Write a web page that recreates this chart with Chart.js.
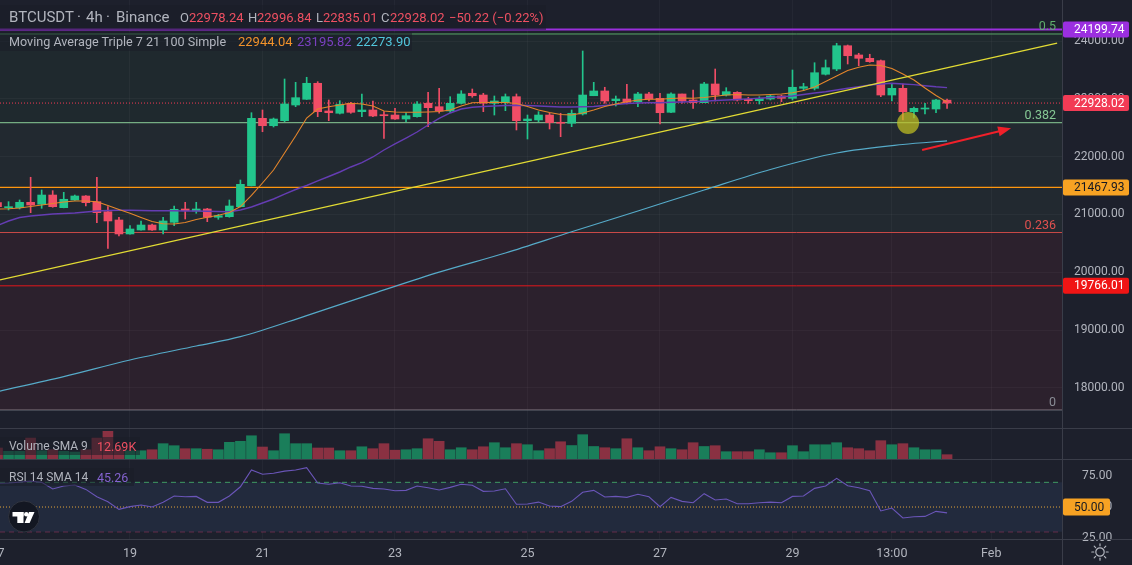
<!DOCTYPE html>
<html>
<head>
<meta charset="utf-8">
<script src="https://cdn.jsdelivr.net/npm/chart.js@4.4.1/dist/chart.umd.min.js"></script>
<style>
html,body{margin:0;padding:0;background:#1d202c;}
#wrap{position:relative;width:1132px;height:565px;overflow:hidden;background:#1d202c;font-family:Roboto,"Noto Sans",sans-serif;}
#wrap canvas{position:absolute;left:0;}
.t{position:absolute;white-space:nowrap;line-height:19px;height:19px;color:#b2b5be;}
.sep{position:absolute;background:#3a3d49;}
.box{position:absolute;background:rgba(26,29,40,0.55);}
</style>
</head>
<body>
<div id="wrap">
  <canvas id="c1" width="1132" height="428" style="top:0px"></canvas>
  <canvas id="c2" width="1132" height="31" style="top:428px"></canvas>
  <canvas id="c3" width="1132" height="106" style="top:459px"></canvas>

  <div class="sep" style="left:0;top:428px;width:1132px;height:1px"></div>
  <div class="sep" style="left:0;top:459px;width:1132px;height:1px"></div>
  <div class="sep" style="left:0;top:539px;width:1132px;height:1px"></div>
  <div class="sep" style="left:1062px;top:0;width:1px;height:565px"></div>

  <div class="box" style="left:0;top:5px;width:546px;height:25px"></div>
  <div class="box" style="left:0;top:32px;width:412px;height:19px"></div>
  <div class="box" style="left:0;top:437px;width:140px;height:18px"></div>
  <div class="box" style="left:0;top:468px;width:134px;height:18px"></div>

  <div class="t" style="left:9px;top:8px;font-size:15px">BTCUSDT</div>
  <div class="t" style="left:77px;top:8px;font-size:15px">·</div>
  <div class="t" style="left:86px;top:8px;font-size:15px">4h</div>
  <div class="t" style="left:106px;top:8px;font-size:15px">·</div>
  <div class="t" style="left:116px;top:8px;font-size:15px">Binance</div>
  <div class="t" style="left:180px;top:8px;font-size:13px">O</div>
  <div class="t" style="left:189px;top:8px;font-size:13px;color:#ef5062">22978.24</div>
  <div class="t" style="left:248px;top:8px;font-size:13px">H</div>
  <div class="t" style="left:257px;top:8px;font-size:13px;color:#ef5062">22996.84</div>
  <div class="t" style="left:316px;top:8px;font-size:13px">L</div>
  <div class="t" style="left:323px;top:8px;font-size:13px;color:#ef5062">22835.01</div>
  <div class="t" style="left:381px;top:8px;font-size:13px">C</div>
  <div class="t" style="left:390px;top:8px;font-size:13px;color:#ef5062">22928.02</div>
  <div class="t" style="left:449px;top:8px;font-size:13px;color:#ef5062">−50.22 (−0.22%)</div>

  <div class="t" style="left:9px;top:32px;font-size:12.6px">Moving Average Triple 7 21 100 Simple</div>
  <div class="t" style="left:238px;top:32px;font-size:13px;color:#f2922b">22944.04</div>
  <div class="t" style="left:297px;top:32px;font-size:13px;color:#7a40c0">23195.82</div>
  <div class="t" style="left:356px;top:32px;font-size:13px;color:#52c6dc">22273.90</div>

  <div class="t" style="left:9px;top:437px;font-size:12px">Volume SMA 9</div>
  <div class="t" style="left:97px;top:437px;font-size:12.5px;color:#ef5062">12.69K</div>
  <div class="t" style="left:9px;top:468px;font-size:12px">RSI 14 SMA 14</div>
  <div class="t" style="left:97px;top:468px;font-size:12.5px;color:#8563d0">45.26</div>

  <svg style="position:absolute;left:7px;top:500px" width="34" height="34" viewBox="0 0 34 34">
    <circle cx="17" cy="16.5" r="15.5" fill="#131722" stroke="#30343f" stroke-width="1"/>
    <rect x="5.5" y="12" width="11" height="4.5" fill="#ffffff"/>
    <rect x="10.3" y="12" width="6.2" height="11" fill="#ffffff"/>
    <circle cx="19.3" cy="14.2" r="2.2" fill="#ffffff"/>
    <polygon points="22,12 27.5,12 22.6,23 17.6,23" fill="#ffffff"/>
  </svg>
  <svg style="position:absolute;left:1090px;top:542px" width="20" height="20" viewBox="0 0 20 20">
    <circle cx="10" cy="10" r="4.2" fill="none" stroke="#b2b5be" stroke-width="1.2"/>
    <g stroke="#b2b5be" stroke-width="1.2" stroke-linecap="round">
      <line x1="10" y1="1.8" x2="10" y2="3.8"/><line x1="10" y1="16.2" x2="10" y2="18.2"/>
      <line x1="1.8" y1="10" x2="3.8" y2="10"/><line x1="16.2" y1="10" x2="18.2" y2="10"/>
      <line x1="4.2" y1="4.2" x2="5.6" y2="5.6"/><line x1="14.4" y1="14.4" x2="15.8" y2="15.8"/>
      <line x1="4.2" y1="15.8" x2="5.6" y2="14.4"/><line x1="14.4" y1="5.6" x2="15.8" y2="4.2"/>
    </g>
  </svg>
</div>

<script>
// ---------------- DATA ----------------
const xTickIdx = [0, 12, 24, 36, 48, 60, 72, 81, 90];
const xTickLabels = ['17', '19', '21', '23', '25', '27', '29', '13:00', 'Feb'];
const priceTicks = [18000, 19000, 20000, 21000, 22000, 23000, 24000];
const rsiTicks = [25, 50, 75];

const opens = [
  21204,21118,21118,21211,21177,21337,21118,21251,21320,21222,
  21048,20905,20663,20732,20818,20732,20865,21095,21061,21095,
  20952,20962,21135,21498,22664,22536,22623,22894,22993,23270,
  22791,22751,22924,22779,22808,22721,22721,22652,22692,22924,
  22865,22791,22924,23097,23067,22924,22934,23038,22623,22635,
  22721,22595,22578,22739,23055,23137,22969,22998,22952,23085,
  23010,22768,23085,22981,22934,23258,23067,23114,22993,22969,
  22998,23050,23010,23183,23183,23426,23517,23920,23760,23702,
  23661,23067,23183,22779,22825,22825,22978.24];
const highs = [
  21234,21222,21251,21644,21424,21412,21384,21337,21329,21644,
  21135,20952,20806,20888,20835,20952,21147,21211,21211,21107,
  21003,21251,21597,22761,22808,22669,23344,23287,23374,23298,
  22981,22969,22941,23085,22964,22779,22837,22761,22952,23114,
  23183,23038,23142,23171,23097,23050,23085,23085,22721,22779,
  22751,22751,22808,23829,23287,23201,23050,23252,23114,23114,
  23097,23107,23085,23154,23287,23517,23194,23125,23028,23038,
  23067,23067,23500,23270,23626,23673,23962,23932,23789,23772,
  23673,23270,23258,22860,22924,22993,22996.84];
const lows = [
  21113,21078,21095,21031,21107,21125,21115,21243,21147,20858,
  20415,20628,20660,20730,20723,20663,20806,20922,21021,20876,
  20917,20952,21130,21493,22432,22514,22605,22865,22990,22692,
  22623,22739,22751,22692,22692,22318,22645,22605,22682,22519,
  22751,22761,22912,23028,22779,22721,22796,22462,22306,22605,
  22479,22346,22519,22721,23055,22924,22877,22912,22865,22964,
  22566,22761,22924,22837,22934,22964,23050,22964,22924,22912,
  22981,22952,22981,23142,23154,23413,23488,23604,23574,23633,
  23038,22964,22635,22670,22739,22761,22835.01];
const closes = [
  21135,21135,21211,21164,21337,21135,21263,21320,21204,21031,
  20888,20663,20749,20818,20732,20888,21090,21066,21095,20952,
  20979,21147,21522,22664,22536,22652,22912,23021,23270,22779,
  22761,22907,22768,22808,22704,22709,22652,22709,22912,22848,
  22791,22924,23085,23055,22924,22964,23038,22623,22652,22721,
  22588,22578,22751,23067,23137,22964,22998,22941,23085,22998,
  22761,23085,22964,22934,23258,23067,23125,22981,22969,23010,
  23050,23010,23201,23211,23453,23540,23920,23747,23702,23644,
  23067,23183,22779,22837,22837,22981,22928.02];

const ma7 = [
  21095,21100,21112,21138,21164,21190,21216,21233,21233,21221,
  21156,21087,21021,20948,20879,20841,20836,20862,20913,20951,
  20986,21034,21138,21329,21545,21770,22064,22358,22669,22825,
  22865,22894,22924,22912,22877,22791,22773,22768,22768,22773,
  22782,22808,22877,22934,22938,22941,22938,22920,22868,22808,
  22765,22730,22721,22756,22808,22868,22912,22952,22981,22993,
  22993,23007,23016,23010,23024,23045,23067,23076,23067,23067,
  23076,23085,23107,23145,23206,23301,23396,23491,23547,23586,
  23578,23526,23431,23327,23188,23059,22944.04];
const ma21 = [
  20810,20887,20948,20974,20991,21008,21017,21026,21043,21061,
  21069,21073,21073,21069,21066,21066,21064,21061,21061,21055,
  21052,21048,21078,21130,21199,21268,21354,21432,21502,21580,
  21657,21735,21822,21899,21995,22116,22220,22323,22427,22548,
  22661,22756,22825,22855,22868,22877,22886,22891,22886,22877,
  22868,22860,22860,22865,22868,22886,22903,22920,22929,22932,
  22934,22941,22946,22952,22960,22971,22981,22990,23000,23010,
  23024,23036,23050,23076,23102,23124,23154,23183,23211,23240,
  23258,23270,23258,23246,23227,23209,23195.82];
const ma100Idx = [0, 6, 12, 18, 22, 28, 34, 40, 46, 52, 58, 64, 70, 76, 82, 86];
const ma100Val = [17936, 18195, 18483, 18725, 18886, 19251, 19630, 20002, 20334, 20701, 21061, 21424, 21779, 22064, 22211, 22273.90];

const volume = [
  12.5, 8.7, 8.7, 23.8, 9.4, 10.5, 8.7, 7.9, 10.5, 23.8,
  31.4, 11.7, 9.4, 9.4, 10.5, 17.4, 15.1, 11.7, 11.7, 11.1,
  10.5, 18.9, 20.1, 26.4, 13.6, 9.4, 28.7, 17.4, 17.4, 12.5,
  12.5, 9.4, 9.4, 13.9, 11.7, 17.4, 10.0, 10.5, 11.7, 23.0,
  20.1, 10.5, 12.8, 10.5, 13.9, 18.5, 12.8, 17.4, 16.2, 9.4,
  11.7, 19.6, 15.3, 27.6, 14.2, 12.8, 11.7, 23.0, 12.8, 9.4,
  13.9, 11.7, 10.5, 18.5, 14.2, 15.1, 8.3, 8.3, 8.3, 10.5,
  7.1, 7.1, 15.1, 8.3, 16.2, 16.2, 18.5, 12.8, 11.7, 9.4,
  20.8, 16.2, 17.4, 12.8, 10.5, 10.5, 4.9];

const rsi = [
  69.2, 69.5, 70.2, 71.0, 70.0, 64.6, 67.0, 67.8, 64.3, 58.3,
  54.3, 48.1, 50.3, 51.6, 50.0, 53.8, 58.9, 58.3, 58.6, 53.8,
  53.8, 58.9, 66.4, 80.0, 76.5, 77.3, 79.1, 80.0, 81.9, 69.5,
  68.4, 69.7, 67.0, 66.8, 65.1, 64.6, 63.2, 63.5, 67.0, 65.6,
  63.8, 65.9, 68.4, 67.6, 62.7, 63.0, 64.8, 52.2, 52.4, 54.0,
  50.8, 50.3, 54.6, 61.9, 63.5, 58.1, 58.6, 57.8, 60.3, 58.3,
  50.3, 57.8, 54.6, 53.5, 60.8, 55.7, 56.5, 52.7, 52.7, 53.5,
  54.0, 53.5, 58.6, 58.9, 65.1, 67.0, 73.2, 67.3, 65.6, 63.2,
  46.8, 49.2, 41.1, 42.1, 42.4, 46.5, 45.26];
const rsiBands = [70, 50, 30];

const fibNames = ['0.5', '0.382', '0.236', '0'];
const fibLevels = [24123, 22588, 20688, 17618];
const levelPurple = 24199.74;
const levelOrange = 21467.93;
const levelRed = 19766.01;
const trendX = [0.2264, 95.97];
const trendY = [19867, 23965];
const arrowX = [83.74, 91.8];
const arrowY = [22116, 22491];
const markX = 82.47, markY = 22583;

// axis ranges
const xMin = 0.2264, xMax = 96.41;
const yMin = 17306, yMax = 24711;
const volMax = 35.2;
const rsiMin = 24.1, rsiMax = 88.9;

// ---------------- STYLE / BUILD ----------------
Chart.defaults.font.family = 'Roboto, "Noto Sans", sans-serif';
Chart.defaults.color = '#b2b5be';
Chart.defaults.animation = false;

const GREEN = '#22c58c', RED = '#f04d66';
const VGREEN = '#1a7e5a', VRED = '#8a3142';
const GRID = 'rgba(255,255,255,0.035)';
const TXT = '#b2b5be';
const idx = closes.map((_, i) => i);
const up = closes.map((c, i) => c >= opens[i]);
const hline = v => [{x: xMin, y: v}, {x: xMax, y: v}];

const xAxisHidden = () => ({
  type: 'linear', min: xMin, max: xMax, offset: false,
  afterBuildTicks: s => { s.ticks = xTickIdx.map(v => ({value: v})); },
  afterFit: s => { s.height = 0; s.paddingLeft = 0; s.paddingRight = 0; },
  ticks: {display: false},
  grid: {color: GRID, drawTicks: false, offset: false},
  border: {display: false}
});
const baseOpts = {
  responsive: false, maintainAspectRatio: false, animation: false, events: [],
  layout: {padding: 0},
  plugins: {legend: {display: false}, tooltip: {enabled: false}}
};

// ---- main chart plugin ----
const fibTextColors = ['#5faf6c', '#86c995', '#e0514f', '#8a8d96'];
const mainDecor = {
  id: 'mainDecor',
  afterDatasetsDraw(chart) {
    const {ctx, chartArea: a, scales: {x, y}} = chart;
    ctx.save();
    ctx.beginPath(); ctx.rect(a.left, a.top, a.width, a.height); ctx.clip();
    ctx.font = '12.5px Roboto, "Noto Sans", sans-serif';
    ctx.textAlign = 'right'; ctx.textBaseline = 'alphabetic';
    fibLevels.forEach((v, k) => {
      ctx.fillStyle = fibTextColors[k];
      ctx.fillText(fibNames[k], a.right - 6, y.getPixelForValue(v) - 4);
    });
    // highlight circle
    ctx.fillStyle = 'rgba(196,192,34,0.72)';
    ctx.beginPath();
    ctx.arc(x.getPixelForValue(markX), y.getPixelForValue(markY), 11, 0, Math.PI * 2);
    ctx.fill();
    // red arrow
    const x0 = x.getPixelForValue(arrowX[0]), y0 = y.getPixelForValue(arrowY[0]);
    const x1 = x.getPixelForValue(arrowX[1]), y1 = y.getPixelForValue(arrowY[1]);
    const ang = Math.atan2(y1 - y0, x1 - x0);
    ctx.strokeStyle = '#f0202a'; ctx.fillStyle = '#f0202a'; ctx.lineWidth = 2;
    ctx.beginPath(); ctx.moveTo(x0, y0);
    ctx.lineTo(x1 - 9 * Math.cos(ang), y1 - 9 * Math.sin(ang)); ctx.stroke();
    ctx.beginPath();
    ctx.moveTo(x1, y1);
    ctx.lineTo(x1 - 13 * Math.cos(ang) + 5 * Math.sin(ang), y1 - 13 * Math.sin(ang) - 5 * Math.cos(ang));
    ctx.lineTo(x1 - 13 * Math.cos(ang) - 5 * Math.sin(ang), y1 - 13 * Math.sin(ang) + 5 * Math.cos(ang));
    ctx.closePath(); ctx.fill();
    ctx.restore();
  },
  afterDraw(chart) {
    const {ctx, chartArea: a, scales: {y}} = chart;
    const boxes = [
      {v: levelPurple, bg: '#9b2fe0', fg: '#ffffff'},
      {v: closes[closes.length - 1], bg: '#f23b55', fg: '#ffffff'},
      {v: levelOrange, bg: '#f7a223', fg: '#131722'},
      {v: levelRed, bg: '#f01515', fg: '#ffffff'}
    ];
    ctx.save();
    ctx.font = '12px Roboto, "Noto Sans", sans-serif';
    ctx.textAlign = 'left'; ctx.textBaseline = 'middle';
    boxes.forEach(b => {
      const yy = y.getPixelForValue(b.v);
      ctx.fillStyle = b.bg;
      ctx.beginPath();
      ctx.roundRect(a.right + 1, yy - 8, 66, 16, 2);
      ctx.fill();
      ctx.fillStyle = b.fg;
      ctx.fillText(b.v.toFixed(2), a.right + 12, yy + 0.5);
    });
    ctx.restore();
  }
};

new Chart(document.getElementById('c1'), {
  type: 'bar',
  data: {
    datasets: [
      ...fibLevels.map((v, k) => ({
        type: 'line', data: hline(v),
        borderColor: ['#5aa868', '#8fd09c', '#cc4646', '#70737d'][k], borderWidth: 1,
        pointRadius: 0, fill: k < 3 ? '+1' : false,
        backgroundColor: ['rgba(76,175,80,0.07)', 'rgba(129,199,132,0.055)', 'rgba(242,54,69,0.075)', 'rgba(0,0,0,0)'][k],
        order: 20
      })),
      {type: 'line', data: hline(levelRed), borderColor: '#e3171c', borderWidth: 1, pointRadius: 0, order: 15},
      {type: 'line', data: hline(levelOrange), borderColor: '#ff960f', borderWidth: 1.2, pointRadius: 0, order: 15},
      {type: 'line', data: hline(levelPurple), borderColor: '#9a2fdc', borderWidth: 2, pointRadius: 0, order: 15},
      {type: 'line', data: hline(closes[closes.length - 1]), borderColor: '#f23b55', borderWidth: 1, borderDash: [1, 2], pointRadius: 0, order: 15},
      {type: 'bar', data: idx.map(i => ({x: i, y: [lows[i], highs[i]]})),
        backgroundColor: up.map(u => u ? GREEN : RED), barThickness: 1, grouped: false, order: 12},
      {type: 'bar', data: idx.map(i => ({x: i, y: [opens[i], closes[i]]})),
        backgroundColor: up.map(u => u ? GREEN : RED), barThickness: 8, grouped: false, minBarLength: 1, order: 11},
      {type: 'line', data: ma100Idx.map((v, k) => ({x: v, y: ma100Val[k]})), borderColor: '#56abc9', borderWidth: 1.2,
        pointRadius: 0, cubicInterpolationMode: 'monotone', order: 5},
      {type: 'line', data: idx.map(i => ({x: i, y: ma21[i]})), borderColor: '#653db3', borderWidth: 1.4, pointRadius: 0, order: 4},
      {type: 'line', data: idx.map(i => ({x: i, y: ma7[i]})), borderColor: '#e5862b', borderWidth: 1.1, pointRadius: 0, order: 3},
      {type: 'line', data: trendX.map((v, k) => ({x: v, y: trendY[k]})), borderColor: '#e3dc34', borderWidth: 1.3, pointRadius: 0, order: 2}
    ]
  },
  options: {
    ...baseOpts,
    scales: {
      x: xAxisHidden(),
      y: {
        position: 'right', min: yMin, max: yMax,
        afterBuildTicks: s => { s.ticks = priceTicks.map(v => ({value: v})); },
        afterFit: s => { s.width = 70; s.paddingTop = 0; s.paddingBottom = 0; },
        ticks: {color: TXT, font: {size: 12}, padding: 12, callback: v => Number(v).toFixed(2)},
        grid: {color: GRID, drawTicks: false},
        border: {display: false}
      }
    }
  },
  plugins: [mainDecor]
});

// ---- volume ----
new Chart(document.getElementById('c2'), {
  type: 'bar',
  data: {datasets: [{data: idx.map(i => ({x: i, y: volume[i]})),
    backgroundColor: up.map(u => u ? VGREEN : VRED), barThickness: 10, grouped: false}]},
  options: {
    ...baseOpts,
    scales: {
      x: xAxisHidden(),
      y: {position: 'right', min: 0, max: volMax,
        afterFit: s => { s.width = 70; s.paddingTop = 0; s.paddingBottom = 0; },
        ticks: {display: false}, grid: {display: false}, border: {display: false}}
    }
  }
});

// ---- RSI ----
const rsiDecor = {
  id: 'rsiDecor',
  afterDraw(chart) {
    const {ctx, chartArea: a, scales: {y}} = chart;
    const yy = y.getPixelForValue(rsiBands[1]);
    ctx.save();
    ctx.fillStyle = '#f7a223';
    ctx.beginPath(); ctx.roundRect(a.right + 1, yy - 8.5, 47, 17, 2); ctx.fill();
    ctx.fillStyle = '#131722';
    ctx.font = '12px Roboto, "Noto Sans", sans-serif';
    ctx.textAlign = 'left'; ctx.textBaseline = 'middle';
    ctx.fillText(rsiBands[1].toFixed(2), a.right + 12, yy + 0.5);
    ctx.restore();
  }
};
new Chart(document.getElementById('c3'), {
  type: 'line',
  data: {
    datasets: [
      {data: hline(rsiBands[0]), borderColor: '#3f9a63', borderDash: [5, 4], borderWidth: 1, pointRadius: 0,
        fill: '+1', backgroundColor: '#222a3d', order: 10},
      {data: hline(rsiBands[2]), borderColor: '#c73b6b', borderDash: [5, 4], borderWidth: 1, pointRadius: 0, order: 10},
      {data: hline(rsiBands[1]), borderColor: '#e2a43a', borderDash: [1, 2], borderWidth: 1, pointRadius: 0, order: 9},
      {data: idx.map(i => ({x: i, y: rsi[i]})), borderColor: '#6a55b8', borderWidth: 1.1, pointRadius: 0, order: 1}
    ]
  },
  options: {
    ...baseOpts,
    scales: {
      x: {
        type: 'linear', min: xMin, max: xMax, offset: false,
        afterBuildTicks: s => { s.ticks = xTickIdx.map(v => ({value: v})); },
        afterFit: s => { s.height = 26; s.paddingLeft = 0; s.paddingRight = 0; },
        ticks: {autoSkip: false, maxRotation: 0, minRotation: 0, padding: 7, color: TXT, font: {size: 12.5},
          callback: (v, i) => xTickLabels[i]},
        grid: {color: GRID, drawTicks: false, offset: false},
        border: {display: false}
      },
      y: {
        position: 'right', min: rsiMin, max: rsiMax,
        afterBuildTicks: s => { s.ticks = rsiTicks.map(v => ({value: v})); },
        afterFit: s => { s.width = 70; s.paddingTop = 0; s.paddingBottom = 0; },
        ticks: {color: TXT, font: {size: 12}, padding: 12, callback: v => Number(v).toFixed(2)},
        grid: {display: false},
        border: {display: false}
      }
    }
  },
  plugins: [rsiDecor]
});
</script>
</body>
</html>
